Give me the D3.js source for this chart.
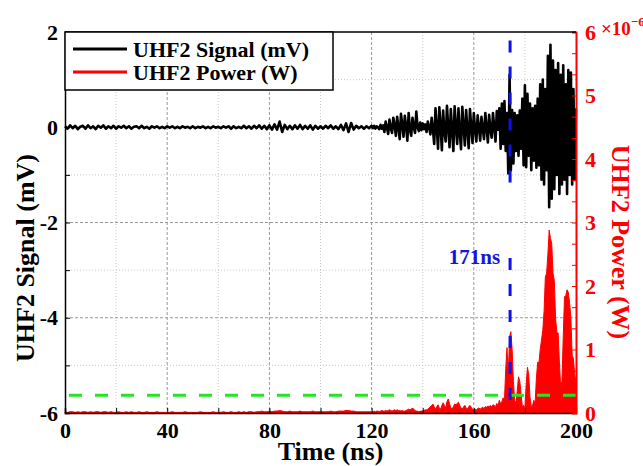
<!DOCTYPE html>
<html>
<head>
<meta charset="utf-8">
<script src="https://cdn.jsdelivr.net/npm/d3@7"></script>
<style>
  body { margin: 0; background: #fff; }
  text { font-family: "Liberation Serif", "Times New Roman", serif; font-weight: bold; }
</style>
</head>
<body>
<div class="canvas"></div>
<script>
// signal (mV), 0..119 ns every 1 ns
const signalQuiet = [
  0.02,-0.03,0.04,-0.02,0.03,-0.04,0.01,0.03,-0.03,0.04,-0.02,0.02,-0.04,0.03,-0.01,0.04,-0.03,0.02,-0.02,0.03,
  -0.03,0.02,-0.01,0.03,-0.02,0.02,-0.03,0.01,0.02,-0.02,0.03,-0.02,0.01,-0.03,0.02,-0.01,0.02,-0.02,0.01,-0.02,
  0.02,-0.01,0.02,-0.02,0.01,-0.02,0.02,-0.01,0.01,-0.02,0.02,-0.02,0.01,-0.01,0.02,-0.02,0.01,-0.02,0.02,-0.01,
  0.01,-0.02,0.02,-0.01,0.02,-0.03,0.02,-0.02,0.01,-0.02,0.03,-0.02,0.02,-0.03,0.03,-0.02,0.04,-0.03,0.03,-0.04,
  0.04,-0.05,0.06,-0.05,0.12,-0.1,0.05,-0.04,0.03,-0.04,0.04,-0.03,0.05,-0.04,0.03,-0.03,0.04,-0.05,0.03,-0.03,
  0.02,-0.03,0.03,-0.02,0.04,-0.03,0.02,-0.04,0.05,-0.06,0.08,-0.1,0.09,-0.05,0.03,-0.02,0.02,-0.03,0.02,-0.02
];
// signal (mV), 120..200 ns every 0.5 ns
const signalActive = [
  0.03,-0.02,0.03,-0.03,0.02,0.0,-0.04,0.05,-0.03,0.04,
  -0.1,0.12,0.0,-0.14,0.16,-0.02,-0.12,0.2,0.05,-0.18,
  0.22,0.0,-0.25,0.28,0.05,-0.2,0.24,0.02,-0.28,0.3,
  -0.05,-0.18,0.2,0.0,-0.12,0.33,0.0,-0.08,0.1,-0.06,
  0.08,-0.04,0.06,-0.1,0.12,0.0,-0.15,0.2,-0.05,-0.35,
  0.4,0.0,-0.45,0.42,0.05,-0.48,0.35,-0.1,-0.3,0.45,
  0.0,-0.42,0.38,-0.05,-0.5,0.44,0.0,-0.35,0.4,-0.1,
  -0.46,0.43,0.02,-0.38,0.36,-0.05,-0.44,0.38,0.0,-0.33,
  0.3,-0.05,-0.3,0.25,0.0,-0.28,0.22,-0.02,-0.25,0.3,
  0.0,-0.32,0.26,-0.05,-0.22,0.3,0.0,-0.3,0.34,-0.05,
  0.4,-0.45,0.5,-0.35,0.55,-0.5,0.3,-0.97,1.1,-0.9,
  0.36,-0.76,0.3,-0.5,0.25,-0.6,0.35,-0.45,0.6,-0.8,
  0.88,-0.84,0.7,-0.6,0.5,-0.9,0.4,-0.7,0.45,-0.85,
  0.6,-0.8,0.9,-1.1,1.0,-1.2,0.8,-0.9,1.5,-1.68,
  1.73,-1.5,1.4,-1.3,1.2,-1.0,1.35,-1.4,1.1,-1.2,
  1.3,-1.1,0.9,-1.4,1.2,-1.0,1.15,-1.2,0.8,-1.1,
  0.4
];
// power (x1e-6 W), 0..119 ns every 1 ns
const powerQuiet = [
  0.02,0.01,0.02,0.02,0.01,0.02,0.01,0.02,0.02,0.01,0.02,0.01,0.02,0.02,0.01,0.02,0.02,0.01,0.02,0.01,
  0.01,0.02,0.01,0.01,0.02,0.01,0.02,0.01,0.01,0.02,0.01,0.01,0.02,0.01,0.01,0.01,0.02,0.01,0.01,0.01,
  0.01,0.01,0.02,0.01,0.01,0.01,0.01,0.02,0.01,0.01,0.01,0.01,0.01,0.02,0.01,0.01,0.01,0.01,0.02,0.01,
  0.01,0.01,0.02,0.01,0.01,0.02,0.01,0.01,0.02,0.01,0.02,0.01,0.02,0.02,0.01,0.02,0.02,0.03,0.02,0.02,
  0.03,0.02,0.03,0.03,0.04,0.03,0.02,0.02,0.03,0.02,0.02,0.02,0.03,0.02,0.02,0.02,0.02,0.03,0.02,0.02,
  0.02,0.02,0.02,0.02,0.03,0.02,0.02,0.03,0.03,0.03,0.04,0.04,0.03,0.03,0.02,0.02,0.02,0.02,0.02,0.02
];
// power (x1e-6 W), 120..200 ns every 0.5 ns
const powerActive = [
  0.02,0.02,0.03,0.02,0.03,0.03,0.02,0.03,0.04,0.03,
  0.03,0.04,0.03,0.04,0.05,0.04,0.03,0.04,0.05,0.04,
  0.05,0.04,0.04,0.03,0.04,0.03,0.03,0.04,0.05,0.06,
  0.05,0.06,0.08,0.06,0.04,0.03,0.03,0.02,0.03,0.03,
  0.03,0.04,0.05,0.05,0.06,0.08,0.1,0.12,0.14,0.1,
  0.06,0.1,0.13,0.08,0.06,0.12,0.16,0.12,0.08,0.18,
  0.22,0.15,0.08,0.06,0.1,0.14,0.13,0.15,0.17,0.12,
  0.08,0.06,0.1,0.12,0.08,0.06,0.1,0.12,0.09,0.06,
  0.05,0.06,0.05,0.07,0.08,0.06,0.08,0.09,0.07,0.1,
  0.09,0.11,0.1,0.12,0.1,0.13,0.12,0.1,0.15,0.12,
  0.2,0.14,0.18,0.24,0.2,0.7,1.03,0.6,1.2,1.28,
  1.0,0.5,0.2,0.15,0.35,0.57,0.5,0.3,0.1,0.12,
  0.08,0.45,0.72,0.6,0.25,0.1,0.12,0.2,0.15,0.55,
  0.8,0.79,1.0,1.15,1.3,1.6,2.14,2.2,2.5,2.88,
  2.75,2.67,2.2,2.09,1.5,1.26,1.26,0.8,0.41,0.5,
  1.2,1.83,1.85,1.94,1.9,1.73,1.5,0.91,0.85,0.6,
  0.5
];

// threshold (x1e-6 W) and onset marker
const threshold = 0.28;
const onsetTime = 174.2;
const onsetLabel = '171ns';
const markerSignalSpan = [1.82, -1.18];   // mV
const markerPowerSpan = [2.44, 0.17];     // x1e-6 W

const xTicks = [0, 40, 80, 120, 160, 200];
const yLeftTicks = [2, 0, -2, -4, -6];
const yRightTicks = [0, 1, 2, 3, 4, 5, 6];
const legendLabels = ['UHF2 Signal (mV)', 'UHF2 Power (W)'];

const dims = {width: 643, height: 466};
const margin = {left: 65, right: 67, top: 32, bottom: 53};

const svg = d3.select('.canvas')
.append('svg')
.attr('width', dims.width)
.attr('height', dims.height);

const x = d3.scaleLinear().domain([0, 200]).range([margin.left, dims.width - margin.right]);
const yL = d3.scaleLinear().domain([-6, 2]).range([dims.height - margin.bottom, margin.top]);
const yR = d3.scaleLinear().domain([0, 6]).range([dims.height - margin.bottom, margin.top]);

//build series
const signal = signalQuiet.map((v, i) => ({t: i, v}))
.concat(signalActive.map((v, i) => ({t: 120 + i * 0.5, v})));
const power = powerQuiet.map((v, i) => ({t: i, v}))
.concat(powerActive.map((v, i) => ({t: 120 + i * 0.5, v})));

//grid
const grid = svg.append('g');
d3.range(20, 200, 20).forEach(t => {
    const major = t % 40 === 0;
    grid.append('line')
    .attr('x1', x(t)).attr('x2', x(t))
    .attr('y1', yL(2)).attr('y2', yL(-6))
    .attr('stroke', major ? '#999' : '#c8c8c8')
    .attr('stroke-dasharray', major ? '3,2' : '1,2');
});
d3.range(-5, 2, 1).forEach(v => {
    const major = v % 2 === 0;
    grid.append('line')
    .attr('x1', x(0)).attr('x2', x(200))
    .attr('y1', yL(v)).attr('y2', yL(v))
    .attr('stroke', major ? '#999' : '#c8c8c8')
    .attr('stroke-dasharray', major ? '3,2' : '1,2');
});

//power area
svg.append('path')
.datum(power)
.attr('fill', '#ff0000')
.attr('stroke', '#ff0000')
.attr('stroke-width', 1)
.attr('d', d3.area().x(d => x(d.t)).y0(yR(0)).y1(d => yR(d.v)));

//signal line
svg.append('path')
.datum(signal)
.attr('fill', 'none')
.attr('stroke', '#000')
.attr('stroke-width', 2.6)
.attr('stroke-linejoin', 'round')
.attr('d', d3.line().x(d => x(d.t)).y(d => yL(d.v)));

//threshold
svg.append('line')
.attr('x1', x(0)).attr('x2', x(200))
.attr('y1', yR(threshold)).attr('y2', yR(threshold))
.attr('stroke', '#22e622')
.attr('stroke-width', 3)
.attr('stroke-dasharray', '13,13')
.attr('stroke-dashoffset', -4);

//onset marker
svg.append('line')
.attr('x1', x(onsetTime)).attr('x2', x(onsetTime))
.attr('y1', yL(markerSignalSpan[0])).attr('y2', yL(markerSignalSpan[1]))
.attr('stroke', '#1010e8')
.attr('stroke-width', 3)
.attr('stroke-dasharray', '12,14');
svg.append('line')
.attr('x1', x(onsetTime)).attr('x2', x(onsetTime))
.attr('y1', yR(markerPowerSpan[0])).attr('y2', yR(markerPowerSpan[1]))
.attr('stroke', '#1010e8')
.attr('stroke-width', 3)
.attr('stroke-dasharray', '12,14');
svg.append('text')
.attr('x', x(onsetTime) - 10)
.attr('y', yR(markerPowerSpan[0]) + 6)
.attr('text-anchor', 'end')
.attr('fill', '#1515d8')
.attr('font-size', 21)
.text(onsetLabel);

//axes
const axisBottom = svg.append('g')
.attr('transform', `translate(0, ${yL(-6)})`)
.call(d3.axisBottom(x).tickValues(d3.range(0, 201, 20)).tickSize(-5).tickFormat(d => xTicks.includes(d) ? d : ''));
axisBottom.selectAll('text').attr('font-size', 22).attr('fill', '#000').attr('dy', '0.98em');

const axisLeft = svg.append('g')
.attr('transform', `translate(${x(0)}, 0)`)
.call(d3.axisLeft(yL).tickValues(d3.range(-6, 3, 1)).tickSize(-5).tickFormat(d => yLeftTicks.includes(d) ? d : ''));
axisLeft.selectAll('text').attr('font-size', 22).attr('fill', '#000').attr('x', -7);

const axisRight = svg.append('g')
.attr('transform', `translate(${x(200)}, 0)`)
.call(d3.axisRight(yR).tickValues(d3.range(0, 18.5, 1).map(d => d / 3)).tickSize(-4)
.tickFormat(d => yRightTicks.includes(Math.round(d * 1000) / 1000) ? Math.round(d) : ''));
axisRight.selectAll('text').attr('font-size', 22).attr('fill', '#ff0000').attr('x', 9);
axisRight.selectAll('line').attr('stroke', '#ff0000');
axisRight.select('.domain').attr('stroke', '#ff0000').attr('stroke-width', 2);

[axisBottom, axisLeft].forEach(a => {
    a.selectAll('line').attr('stroke', '#000');
    a.select('.domain').attr('stroke', '#000').attr('stroke-width', 1.5);
});

//top border
svg.append('line')
.attr('x1', x(0)).attr('x2', x(200))
.attr('y1', yL(2)).attr('y2', yL(2))
.attr('stroke', '#000')
.attr('stroke-width', 1.5);

//exponent
const expo = svg.append('text')
.attr('x', x(200) + 25)
.attr('y', yR(6) + 3)
.attr('fill', '#ff0000')
.attr('font-size', 19);
expo.append('tspan').text('×10');
expo.append('tspan').attr('dy', -9).attr('font-size', 13).text('−6');

//axis titles
svg.append('text')
.attr('x', (x(0) + x(200)) / 2 + 10)
.attr('y', 460)
.attr('text-anchor', 'middle')
.attr('font-size', 26)
.text('Time (ns)');

svg.append('text')
.attr('transform', 'translate(34, 258) rotate(-90)')
.attr('text-anchor', 'middle')
.attr('font-size', 26)
.text('UHF2 Signal (mV)');

svg.append('text')
.attr('transform', 'translate(612, 242) rotate(90)')
.attr('text-anchor', 'middle')
.attr('fill', '#ff0000')
.attr('font-size', 26)
.text('UHF2 Power (W)');

//legend
const legend = svg.append('g');
legend.append('rect')
.attr('x', x(0)).attr('y', yL(2))
.attr('width', 268).attr('height', 58)
.attr('fill', '#fff')
.attr('stroke', '#000')
.attr('stroke-width', 1.5);
legendLabels.forEach((label, i) => {
    legend.append('line')
    .attr('x1', 73).attr('x2', 127)
    .attr('y1', 49 + i * 23).attr('y2', 49 + i * 23)
    .attr('stroke', i === 0 ? '#000' : '#ff0000')
    .attr('stroke-width', 3);
    legend.append('text')
    .attr('x', 133)
    .attr('y', 57 + i * 23)
    .attr('font-size', 22)
    .text(label);
});
</script>
</body>
</html>
